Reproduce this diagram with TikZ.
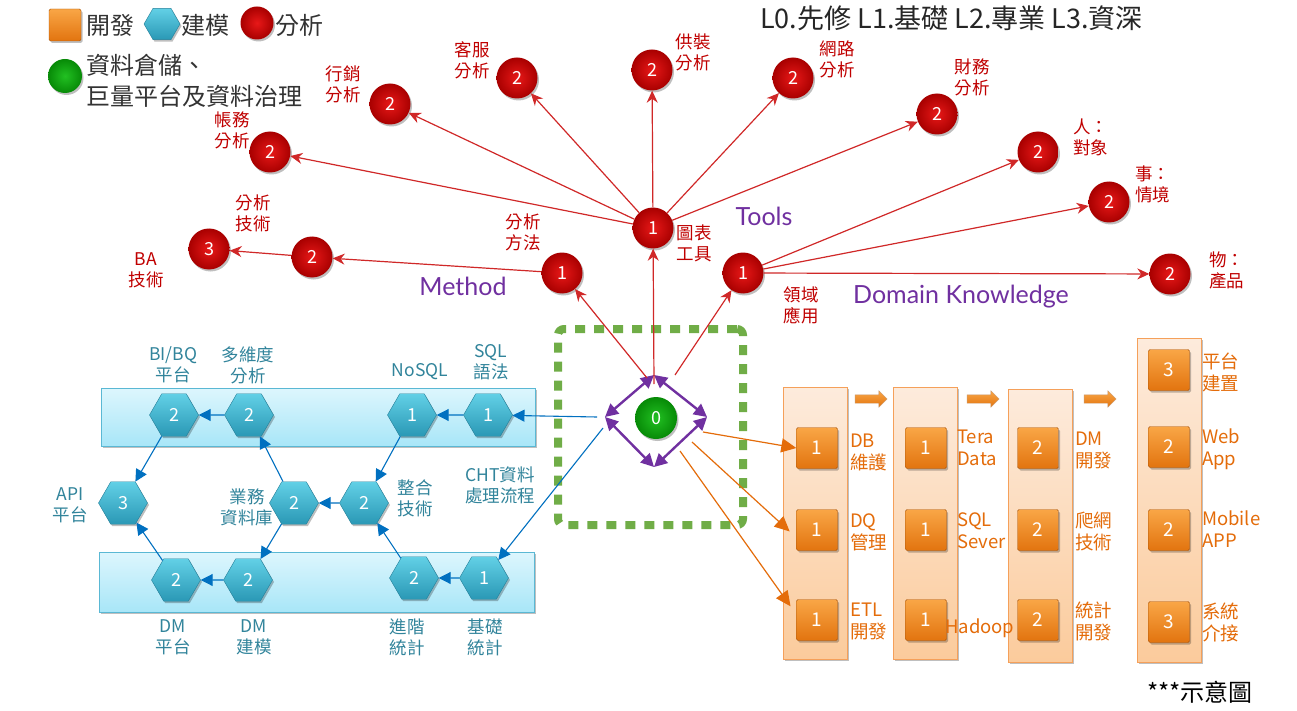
\documentclass[tikz,border=0pt]{standalone}
\usepackage{fontspec}
\setmainfont{Noto Sans CJK TC}
\newfontfamily\gill{Lato}
\usetikzlibrary{arrows.meta,shapes.geometric,shapes.arrows,shadows}
\definecolor{ballin}{HTML}{E81818}
\definecolor{ballout}{HTML}{A80000}
\definecolor{lred}{HTML}{C00000}
\definecolor{arred}{HTML}{D02828}
\definecolor{lblue}{HTML}{31849B}
\definecolor{arblue}{HTML}{0070C0}
\definecolor{lorange}{HTML}{E46C0A}
\definecolor{purp}{HTML}{7030A0}
\definecolor{dashgreen}{HTML}{70AD47}
\definecolor{gin}{HTML}{22C022}
\definecolor{gout}{HTML}{078A07}
\definecolor{hextop}{HTML}{62D0E6}
\definecolor{hexbot}{HTML}{2A98B5}
\definecolor{hexdraw}{HTML}{237F99}
\definecolor{bandtop}{HTML}{DDF6FD}
\definecolor{bandbot}{HTML}{A8E6F8}
\definecolor{bandedge}{HTML}{5AB8D4}
\definecolor{sqtop}{HTML}{F9A646}
\definecolor{sqbot}{HTML}{E2740F}
\definecolor{sqdraw}{HTML}{A9550C}
\definecolor{coltop}{HTML}{FDEBDC}
\definecolor{colbot}{HTML}{FBCB9C}
\definecolor{coledge}{HTML}{F5A05A}
\definecolor{legtxt}{HTML}{333333}
\begin{document}
\begin{tikzpicture}[x=1pt,y=-1pt,
 softshadow/.style={drop shadow={shadow xshift=1.5pt, shadow yshift=-2pt, opacity=0.25, fill=black}},
 rball/.style={circle, minimum size=41pt, inner sep=0pt, inner color=ballin, outer color=ballout, softshadow, text=white, font=\fontsize{18}{18}\selectfont},
 gball/.style={circle, minimum size=42pt, inner sep=0pt, inner color=gin, outer color=gout, softshadow, text=white, font=\fontsize{18}{18}\selectfont},
 rlab/.style={text=lred, align=center, font=\fontsize{17.5}{21}\selectfont, inner sep=0pt},
 rarr/.style={draw=arred, line width=1.2pt, -{Stealth[length=12pt,width=11pt]}},
 hexa/.style={regular polygon, regular polygon sides=6, minimum size=49pt, inner sep=0pt, draw=hexdraw, top color=hextop, bottom color=hexbot, softshadow, text=white, font=\fontsize{18}{18}\selectfont},
 blab/.style={text=lblue, align=center, font=\fontsize{17.5}{21}\selectfont, inner sep=0pt},
 barr/.style={draw=arblue, line width=1.1pt, -{Triangle[length=12pt,width=12pt]}},
 osq/.style={rectangle, rounded corners=1.5pt, minimum size=41pt, inner sep=0pt, draw=sqdraw, top color=sqtop, bottom color=sqbot, softshadow, text=white, font=\fontsize{19}{19}\selectfont},
 olab/.style={text=lorange, align=left, anchor=west, font=\fontsize{18.5}{22}\selectfont, inner sep=0pt},
 oarr/.style={draw=lorange, line width=1.2pt, -{Triangle[length=15pt,width=14pt]}},
 ocol/.style={rectangle, draw=coledge, line width=0.9pt, top color=coltop, bottom color=colbot, softshadow, minimum width=64pt, inner sep=0pt},
 band/.style={rectangle, draw=bandedge, line width=0.9pt, top color=bandtop, bottom color=bandbot, softshadow, inner sep=0pt},
 ptxt/.style={text=purp, font=\gill\fontsize{25}{25}\selectfont, inner sep=0pt},
 darr/.style={draw=purp, line width=2.4pt, {Triangle[length=13pt,width=13pt]}-{Triangle[length=13pt,width=13pt]}},
 blockarr/.style={single arrow, single arrow head extend=4pt, minimum height=32pt, minimum width=16pt, inner xsep=0pt, inner ysep=4pt, draw=sqdraw!60, top color=sqtop, bottom color=sqbot},
 legt/.style={text=legtxt, font=\fontsize{24}{31}\selectfont, inner sep=0pt, anchor=west, align=left}
]
\path[use as bounding box, fill=white] (0,0) rectangle (1297,711);

% ---------- legend ----------
\node[osq, minimum size=32pt] (lgO) at (65,25) {};
\node[legt] (lgOt) at (86,25) {開發};
\node[hexa, minimum size=36pt] (lgB) at (162,24) {};
\node[legt] (lgBt) at (181,25) {建模};
\node[rball, minimum size=33pt] (lgR) at (257,23) {};
\node[legt] (lgRt) at (275,25) {分析};
\node[gball, minimum size=34pt] (lgG) at (65,76) {};
\node[legt] (lgGt) at (86,81) {資料倉儲、\\巨量平台及資料治理};

% ---------- title ----------
\node[anchor=west, text=black!85, font=\fontsize{27}{27}\selectfont, inner sep=0pt] (title) at (760,18) {L0.先修 L1.基礎 L2.專業 L3.資深};

% ---------- blue bands and orange columns ----------
\node[band, minimum width=434pt, minimum height=58pt] (bandT) at (318,417) {};
\node[band, minimum width=435pt, minimum height=60pt] (bandB) at (316.5,582) {};
\node[ocol, minimum height=272pt] (colA) at (815,523) {};
\node[ocol, minimum height=272pt] (colB) at (925,523) {};
\node[ocol, minimum height=273pt] (colC) at (1040,525.5) {};
\node[ocol, minimum height=324pt] (colD) at (1169,500) {};

% ---------- green dashed box ----------
\node[draw=dashgreen, line width=8pt, dash pattern=on 10pt off 9pt, rounded corners=6pt, minimum width=185pt, minimum height=196pt, inner sep=0pt] (gbox) at (650.5,427) {};

% ---------- red analysis nodes ----------
\node[rball] (cZW) at (270,152) {2};
\node[rball] (cXX) at (390,104) {2};
\node[rball] (cKF) at (517,78) {2};
\node[rball] (cGZ) at (652,70) {2};
\node[rball] (cWL) at (793,78) {2};
\node[rball] (cCW) at (937,114) {2};
\node[rball] (cRen) at (1038,152) {2};
\node[rball] (cShi) at (1109,202) {2};
\node[rball] (cWu) at (1170,274) {2};
\node[rball] (cJS) at (312,257) {2};
\node[rball] (cBA) at (209,249) {3};
\node[rball] (cFF) at (562,273) {1};
\node[rball] (cTB) at (653,228) {1};
\node[rball] (cLY) at (743,273) {1};

\node[rlab] (tZW) at (232,130) {帳務\\分析};
\node[rlab] (tXX) at (343,84) {行銷\\分析};
\node[rlab] (tKF) at (472,60) {客服\\分析};
\node[rlab] (tGZ) at (693,52) {供裝\\分析};
\node[rlab] (tWL) at (837,59) {網路\\分析};
\node[rlab] (tCW) at (972,77) {財務\\分析};
\node[rlab, align=left, anchor=west] (tRen) at (1073,137) {人：\\對象};
\node[rlab, align=left, anchor=west] (tShi) at (1135,184) {事：\\情境};
\node[rlab, align=left, anchor=west] (tWu) at (1209,270) {物：\\產品};
\node[rlab] (tJS) at (253,213) {分析\\技術};
\node[rlab] (tBA) at (146,270) {BA\\技術};
\node[rlab] (tFF) at (523,232) {分析\\方法};
\node[rlab] (tTB) at (694,243) {圖表\\工具};
\node[rlab] (tLY) at (801,305) {領域\\應用};

\node[ptxt] (pTools) at (764,216) {Tools};
\node[ptxt] (pMethod) at (463,286) {Method};
\node[ptxt] (pDomain) at (961,297) {Domain Knowledge};

\draw[rarr] (cTB) -- (cZW);
\draw[rarr] (cTB) -- (cXX);
\draw[rarr] (cTB) -- (cKF);
\draw[rarr] (cTB) -- (cGZ);
\draw[rarr] (cTB) -- (cWL);
\draw[rarr] (cTB) -- (cCW);
\draw[rarr] (cFF) -- (cJS);
\draw[rarr] (cJS) -- (cBA);
\draw[rarr] (cLY) -- (cRen);
\draw[rarr] (cLY) -- (cShi);
\draw[rarr] (cLY) -- (cWu);

% ---------- center ----------
\node[gball] (cz) at (656,418) {0};
\coordinate (dT) at (654,375);
\coordinate (dR) at (707,417);
\coordinate (dB) at (654,467);
\coordinate (dL) at (605,417);
\draw[darr] (dL) -- (dT);
\draw[darr] (dT) -- (dR);
\draw[darr] (dR) -- (dB);
\draw[darr] (dB) -- (dL);

\coordinate (r1) at (647,378);
\coordinate (r2) at (654,384);
\coordinate (r3) at (675,375);
\draw[rarr] (r1) -- (cFF);
\draw[rarr] (r2) -- (cTB);
\draw[rarr] (r3) -- (cLY);

% ---------- blue modelling nodes ----------
\node[hexa] (hBI) at (174,415) {2};
\node[hexa] (hMD) at (249,415) {2};
\node[hexa] (hNo) at (412,415) {1};
\node[hexa] (hSQL) at (488,415) {1};
\node[hexa] (hAPI) at (123,503) {3};
\node[hexa] (hYW) at (294,503) {2};
\node[hexa] (hZH) at (364,503) {2};
\node[hexa] (hDMP) at (176,580) {2};
\node[hexa] (hDMM) at (248,580) {2};
\node[hexa] (hJJ) at (414,578) {2};
\node[hexa] (hJC) at (484,578) {1};

\node[blab] (tBI) at (173,365) {BI/BQ\\平台};
\node[blab] (tMD) at (248,365) {多維度\\分析};
\node[blab] (tNo) at (420,372) {NoSQL};
\node[blab] (tSQL) at (491,362) {SQL\\語法};
\node[blab] (tCHT) at (500,485) {CHT資料\\處理流程};
\node[blab] (tAPI) at (70,505) {API\\平台};
\node[blab] (tYW) at (247,507) {業務\\資料庫};
\node[blab] (tZH) at (415,498) {整合\\技術};
\node[blab] (tDMP) at (173,637) {DM\\平台};
\node[blab] (tDMM) at (254,637) {DM\\建模};
\node[blab] (tJJ) at (407,637) {進階\\統計};
\node[blab] (tJC) at (485,637) {基礎\\統計};

\coordinate (b1) at (597,417);
\coordinate (b2) at (603,428);
\draw[barr] (b1) -- (hSQL);
\draw[barr] (b2) -- (hJC);
\draw[barr] (hSQL) -- (hNo);
\draw[barr] (hMD) -- (hBI);
\draw[barr] (hBI) -- (hAPI);
\draw[barr] (hNo) -- (hZH);
\draw[barr] (hZH) -- (hYW);
\draw[barr] (hYW) -- (hMD);
\draw[barr] (hYW) -- (hDMM);
\draw[barr] (hDMM) -- (hDMP);
\draw[barr] (hDMP) -- (hAPI);
\draw[barr] (hJJ) -- (hZH);
\draw[barr] (hJC) -- (hJJ);

% ---------- orange development nodes ----------
\node[osq] (sA1) at (817,448) {1};
\node[osq] (sA2) at (817,530) {1};
\node[osq] (sA3) at (817,620) {1};
\node[osq] (sB1) at (926,448) {1};
\node[osq] (sB2) at (926,530) {1};
\node[osq] (sB3) at (926,620) {1};
\node[osq] (sC1) at (1038,448) {2};
\node[osq] (sC2) at (1038,530) {2};
\node[osq] (sC3) at (1038,620) {2};
\node[osq] (sD1) at (1169,370) {3};
\node[osq] (sD2) at (1169,447) {2};
\node[osq] (sD3) at (1169,530) {2};
\node[osq] (sD4) at (1169,622) {3};

\node[olab] (tA1) at (850,452) {DB\\維護};
\node[olab] (tA2) at (850,532) {DQ\\管理};
\node[olab] (tA3) at (850,621) {ETL\\開發};
\node[olab] (tB1) at (957,448) {Tera\\Data};
\node[olab] (tB2) at (957,531) {SQL\\Sever};
\node[olab] (tB3) at (945,628) {Hadoop};
\node[olab] (tC1) at (1075,450) {DM\\開發};
\node[olab] (tC2) at (1075,531) {爬網\\技術};
\node[olab] (tC3) at (1075,621) {統計\\開發};
\node[olab] (tD1) at (1202,372) {平台\\建置};
\node[olab] (tD2) at (1202,449) {Web\\App};
\node[olab] (tD3) at (1202,529) {Mobile\\APP};
\node[olab] (tD4) at (1202,622) {系統\\介接};

\node[blockarr] (ba1) at (869,399) {};
\node[blockarr] (ba2) at (981,399) {};
\node[blockarr] (ba3) at (1098,399) {};

\coordinate (o1) at (703,432);
\coordinate (o2) at (692,442);
\coordinate (o3) at (680,451);
\draw[oarr] (o1) -- (sA1.west);
\draw[oarr, shorten >=9pt] (o2) -- (sA2.200);
\draw[oarr, shorten >=10pt] (o3) -- (sA3.165);

% ---------- note ----------
\node[text=black, font=\fontsize{24}{24}\selectfont, inner sep=0pt] (note) at (1200,692) {***示意圖};
\end{tikzpicture}
\end{document}
